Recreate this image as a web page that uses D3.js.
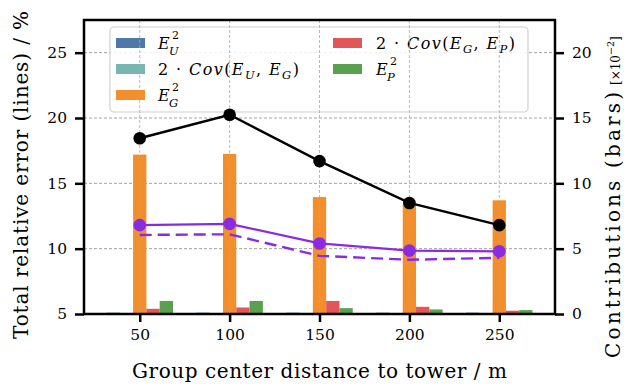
<!DOCTYPE html>
<html>
<head>
<meta charset="utf-8">
<script src="https://cdn.jsdelivr.net/npm/d3@7"></script>
<style>
  body { margin: 0; background: #fff; }
  text { font-family: "DejaVu Serif", serif; fill: #000; }
</style>
</head>
<body>
<div id="chart"></div>
<script>
// data
const distances = [50, 100, 150, 200, 250];
const totalError = [18.45, 20.25, 16.7, 13.5, 11.8];
const purpleSolid = [11.8, 11.9, 10.4, 9.85, 9.8];
const purpleDashed = [11.05, 11.1, 9.45, 9.15, 9.3];

const eU2 = [0.1, 0.1, 0.1, 0.1, 0.1];
const covUG = [0.02, 0.02, 0.02, 0.02, 0.02];
const eG2 = [12.2, 12.25, 8.95, 8.4, 8.7];
const covGP = [0.4, 0.5, 1.0, 0.55, 0.25];
const eP2 = [1.0, 1.0, 0.45, 0.35, 0.3];

const leftTicks = [5, 10, 15, 20, 25];
const rightTicks = [0, 5, 10, 15, 20];

const series = [
    { key: "eU2", values: eU2, color: "#4e79a7" },
    { key: "covUG", values: covUG, color: "#76b7b2" },
    { key: "eG2", values: eG2, color: "#f28e2b" },
    { key: "covGP", values: covGP, color: "#e15759" },
    { key: "eP2", values: eP2, color: "#59a14f" }
];

const width = 627, height = 389;
const margin = { left: 84, right: 72, top: 20, bottom: 75 };

const svg = d3.select("#chart").append("svg")
    .attr("width", width)
    .attr("height", height);

const x = d3.scaleLinear().domain([19, 281]).range([margin.left, width - margin.right]);
const yL = d3.scaleLinear().domain([5, 27.5]).range([height - margin.bottom, margin.top]);
const yR = d3.scaleLinear().domain([0, 22.5]).range([height - margin.bottom, margin.top]);

const barW = 7.4; // data units

// horizontal grid (below bars)
svg.append("g").selectAll("line")
    .data(leftTicks.slice(1))
    .join("line")
    .attr("x1", margin.left).attr("x2", width - margin.right)
    .attr("y1", d => yL(d)).attr("y2", d => yL(d))
    .attr("stroke", "#8a8a8a").attr("stroke-width", 0.8)
    .attr("stroke-dasharray", "3,2");

// bars
series.forEach((s, i) => {
    svg.append("g").selectAll("rect")
        .data(s.values)
        .join("rect")
        .attr("x", (d, j) => x(distances[j] + (i - 2.5) * barW))
        .attr("width", x(barW) - x(0))
        .attr("y", d => yR(d))
        .attr("height", d => yR(0) - yR(d))
        .attr("fill", s.color);
});

// legend
const lg = svg.append("g");
lg.append("rect")
    .attr("x", 110).attr("y", 27).attr("width", 418).attr("height", 85)
    .attr("rx", 4)
    .attr("fill", "#fff").attr("fill-opacity", 0.85)
    .attr("stroke", "#d0d0d0").attr("stroke-width", 1.2);

const legendPos = [
    { x: 116, y: 43 }, { x: 116, y: 69 }, { x: 116, y: 95 },
    { x: 333, y: 43 }, { x: 333, y: 69 }
];

// squared terms: E with stacked super/subscript as separate texts
function squaredLabel(g, px, py, sub) {
    g.append("text").attr("x", px).attr("y", py + 6)
        .attr("font-size", 16).attr("font-style", "italic").text("E");
    g.append("text").attr("x", px + 14).attr("y", py - 4)
        .attr("font-size", 11).text("2");
    g.append("text").attr("x", px + 11).attr("y", py + 12)
        .attr("font-size", 11.5).attr("font-style", "italic").text(sub);
}

function covLabel(g, px, py, a, b) {
    const t = g.append("text").attr("x", px).attr("y", py + 6)
        .attr("font-size", 16).attr("letter-spacing", 1.4);
    t.append("tspan").text("2 · ");
    t.append("tspan").attr("font-style", "italic").text("Cov");
    t.append("tspan").text("(");
    t.append("tspan").attr("font-style", "italic").text("E");
    t.append("tspan").attr("font-style", "italic").attr("font-size", 11.5).attr("dy", 4).text(a);
    t.append("tspan").attr("dy", -4).text(", ");
    t.append("tspan").attr("font-style", "italic").text("E");
    t.append("tspan").attr("font-style", "italic").attr("font-size", 11.5).attr("dy", 4).text(b);
    t.append("tspan").attr("dy", -4).text(")");
}

series.forEach((s, i) => {
    const p = legendPos[i];
    lg.append("rect")
        .attr("x", p.x).attr("y", p.y - 5).attr("width", 29).attr("height", 10)
        .attr("fill", s.color);
});
squaredLabel(lg, 158, 43, "U");
covLabel(lg, 158, 69, "U", "G");
squaredLabel(lg, 158, 95, "G");
covLabel(lg, 376, 43, "G", "P");
squaredLabel(lg, 376, 69, "P");

// vertical grid (drawn on top of bars and legend)
svg.append("g").selectAll("line")
    .data(distances)
    .join("line")
    .attr("x1", d => x(d)).attr("x2", d => x(d))
    .attr("y1", margin.top).attr("y2", height - margin.bottom)
    .attr("stroke", "#a8a8a8").attr("stroke-width", 0.8)
    .attr("stroke-dasharray", "3,2");

// lines
const lineL = d3.line().x((d, i) => x(distances[i])).y(d => yL(d));

svg.append("path").datum(purpleDashed)
    .attr("d", lineL).attr("fill", "none")
    .attr("stroke", "#8a2be2").attr("stroke-width", 2.4)
    .attr("stroke-dasharray", "12,6");

svg.append("path").datum(purpleSolid)
    .attr("d", lineL).attr("fill", "none")
    .attr("stroke", "#8a2be2").attr("stroke-width", 2.2);
svg.append("g").selectAll("circle")
    .data(purpleSolid).join("circle")
    .attr("cx", (d, i) => x(distances[i])).attr("cy", d => yL(d))
    .attr("r", 6.3).attr("fill", "#8a2be2");

svg.append("path").datum(totalError)
    .attr("d", lineL).attr("fill", "none")
    .attr("stroke", "#000").attr("stroke-width", 2.4);
svg.append("g").selectAll("circle")
    .data(totalError).join("circle")
    .attr("cx", (d, i) => x(distances[i])).attr("cy", d => yL(d))
    .attr("r", 6.3).attr("fill", "#000");

// frame
svg.append("rect")
    .attr("x", margin.left).attr("y", margin.top)
    .attr("width", width - margin.left - margin.right)
    .attr("height", height - margin.top - margin.bottom)
    .attr("fill", "none").attr("stroke", "#000").attr("stroke-width", 2.5);

// axes
const xAxis = d3.axisBottom(x).tickValues(distances).tickSize(8).tickPadding(7);
const leftAxis = d3.axisLeft(yL).tickValues(leftTicks).tickSize(9).tickPadding(8);
const rightAxis = d3.axisRight(yR).tickValues(rightTicks).tickSize(9).tickPadding(8);

function styleAxis(g) {
    g.select(".domain").remove();
    g.selectAll(".tick line").attr("stroke", "#000").attr("stroke-width", 2.5);
    g.selectAll(".tick text").attr("font-size", 15.5).attr("font-family", "DejaVu Serif");
}

svg.append("g").attr("transform", `translate(0,${height - margin.bottom})`).call(xAxis).call(styleAxis);
svg.append("g").attr("transform", `translate(${margin.left},0)`).call(leftAxis).call(styleAxis);
svg.append("g").attr("transform", `translate(${width - margin.right},0)`).call(rightAxis).call(styleAxis);

// axis titles
svg.append("text")
    .attr("x", (margin.left + width - margin.right) / 2).attr("y", 378)
    .attr("text-anchor", "middle").attr("font-size", 20)
    .attr("textLength", 375).attr("lengthAdjust", "spacing")
    .text("Group center distance to tower / m");

svg.append("text")
    .attr("transform", "translate(28,175) rotate(-90)")
    .attr("text-anchor", "middle").attr("font-size", 20)
    .attr("textLength", 328).attr("lengthAdjust", "spacing")
    .text("Total relative error (lines) / %");

svg.append("text")
    .attr("transform", "translate(620,358) rotate(-90)")
    .attr("font-size", 20)
    .attr("textLength", 266).attr("lengthAdjust", "spacing")
    .text("Contributions (bars)");

const rt = svg.append("text")
    .attr("transform", "translate(620,85) rotate(-90)")
    .attr("font-size", 12);
rt.append("tspan").text("[×10");
rt.append("tspan").attr("font-size", 9.5).attr("dy", -6).text("−2");
rt.append("tspan").attr("dy", 6).text("]");
</script>
</body>
</html>
